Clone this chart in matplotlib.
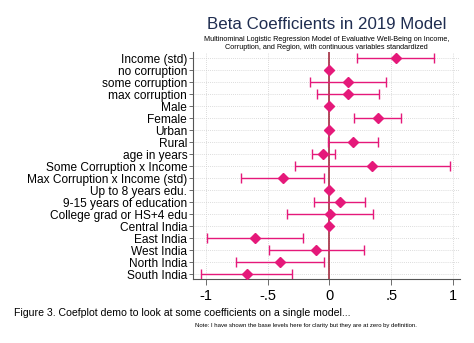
import numpy as np
import matplotlib
matplotlib.use("Agg")
import matplotlib.pyplot as plt

plt.rcParams['font.family'] = ['Liberation Sans', 'DejaVu Sans']

# Coefficients and 95% CI
labels = ["Income (std)", "no corruption", "some corruption", "max corruption",
          "Male", "Female", "Urban", "Rural", "age in years",
          "Some Corruption x Income", "Max Corruption x Income (std)",
          "Up to 8 years edu.", "9-15 years of education", "College grad or HS+4 edu",
          "Central India", "East India", "West India", "North India", "South India"]
coef = [0.535, 0.0, 0.152, 0.150, 0.0, 0.389, 0.0, 0.190, -0.050,
        0.346, -0.378, 0.0, 0.085, 0.004, 0.0, -0.604, -0.107, -0.400, -0.669]
ci_lo = [0.225, 0.0, -0.155, -0.101, 0.0, 0.195, 0.0, -0.010, -0.141,
         -0.276, -0.715, 0.0, -0.125, -0.341, 0.0, -0.992, -0.491, -0.758, -1.041]
ci_hi = [0.842, 0.0, 0.456, 0.402, 0.0, 0.575, 0.0, 0.394, 0.047,
         0.971, -0.047, 0.0, 0.289, 0.349, 0.0, -0.217, 0.279, -0.044, -0.300]

xticks = [-1, -0.5, 0, 0.5, 1]
xticklabels = ["-1", "-.5", "0", ".5", "1"]

PINK = "#e5197a"
ZERO = "#9b1b30"

fig = plt.figure(figsize=(4.74, 3.43), dpi=100)
ax = fig.add_axes([0.408, 0.187, 0.562, 0.661])

y = np.arange(len(labels))
coef = np.array(coef)
lo = np.array(ci_lo)
hi = np.array(ci_hi)

# grid
for xv in xticks:
    ax.axvline(xv, color="#d0d0d0", lw=0.6, ls=(0, (1, 1.5)), zorder=0)
for yv in y:
    ax.axhline(yv, color="#d0d0d0", lw=0.6, ls=(0, (1, 1.5)), zorder=0)

ax.axvline(0, color=ZERO, lw=1.1, zorder=1)

has_ci = hi - lo > 0
ax.errorbar(coef[has_ci], y[has_ci],
            xerr=[coef[has_ci] - lo[has_ci], hi[has_ci] - coef[has_ci]],
            fmt="none", ecolor=PINK, elinewidth=1.0, capsize=3.5, capthick=1.0, zorder=2)
ax.plot(coef, y, ls="none", marker="D", ms=5.5, color=PINK, mec=PINK, zorder=3)

ax.set_xlim(-1.10, 1.054)
ax.set_ylim(18.38, -0.52)
ax.set_yticks(y)
ax.set_yticklabels(labels, fontsize=8.6)
ax.set_xticks(xticks)
ax.set_xticklabels(xticklabels, fontsize=10.5)
ax.tick_params(axis="y", length=3, width=0.6, pad=1.5, color="#555555")
ax.tick_params(axis="x", length=4, width=0.6, pad=3, color="#555555")

for s in ["top", "right"]:
    ax.spines[s].set_visible(False)
for s in ["left", "bottom"]:
    ax.spines[s].set_linewidth(0.8)
    ax.spines[s].set_color("#555555")

cx = (0.408 + 0.408 + 0.562) / 2
fig.text(cx, 0.93, "Beta Coefficients in 2019 Model", ha="center", va="center",
         fontsize=12.2, color="#1f2d50")
fig.text(cx, 0.873, "Multinominal Logistic Regression Model of Evaluative Well-Being on Income,\n"
         "Corruption, and Region, with continuous variables standardized",
         ha="center", va="center", fontsize=5.2, linespacing=1.2)
fig.text(0.03, 0.087, "Figure 3. Coefplot demo to look at some coefficients on a single model...",
         ha="left", va="center", fontsize=7.6)
fig.text(0.411, 0.05, "Note: I have shown the base levels here for clarity but they are at zero by definition.",
         ha="left", va="center", fontsize=4.35)

fig.savefig("out.png", dpi=100, facecolor="white")
